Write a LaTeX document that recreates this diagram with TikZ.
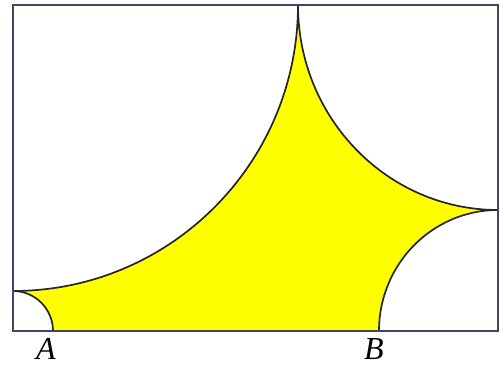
\documentclass[tikz,border=0pt]{standalone}
\usepackage{fontspec}
\setmainfont{Liberation Serif}
\usetikzlibrary{positioning}
\definecolor{shadeyellow}{RGB}{255,255,0}
\definecolor{frameblue}{RGB}{70,70,100}

\begin{document}
\begin{tikzpicture}[x=1pt, y=1pt, every node/.style={font=\fontsize{32}{32}\selectfont\itshape}]
    \useasboundingbox (0,0) rectangle (504,365);

    % Corners of the rectangle
    \coordinate (bl) at (13,34);
    \coordinate (br) at (498,34);
    \coordinate (tr) at (498,360);
    \coordinate (tl) at (13,360);

    % Shaded region between the four corner arcs
    \fill[shadeyellow] (13,74) arc[start angle=-90, end angle=0, x radius=285, y radius=286]
        arc[start angle=180, end angle=270, x radius=200, y radius=205]
        arc[start angle=90, end angle=180, x radius=119, y radius=121]
        -- (53,34) arc[start angle=0, end angle=90, radius=40] -- cycle;

    % Arcs
    \draw[line width=1.7pt, black!85] (13,74) arc[start angle=-90, end angle=0, x radius=285, y radius=286]
        arc[start angle=180, end angle=270, x radius=200, y radius=205]
        arc[start angle=90, end angle=180, x radius=119, y radius=121];
    \draw[line width=1.7pt, black!85] (53,34) arc[start angle=0, end angle=90, radius=40];

    % Rectangle
    \draw[line width=2.5pt, frameblue] (bl) rectangle (tr);

    % Labels
    \node (lblA) at (46,16) {A};
    \node (lblB) at (374,16) {B};
\end{tikzpicture}
\end{document}
